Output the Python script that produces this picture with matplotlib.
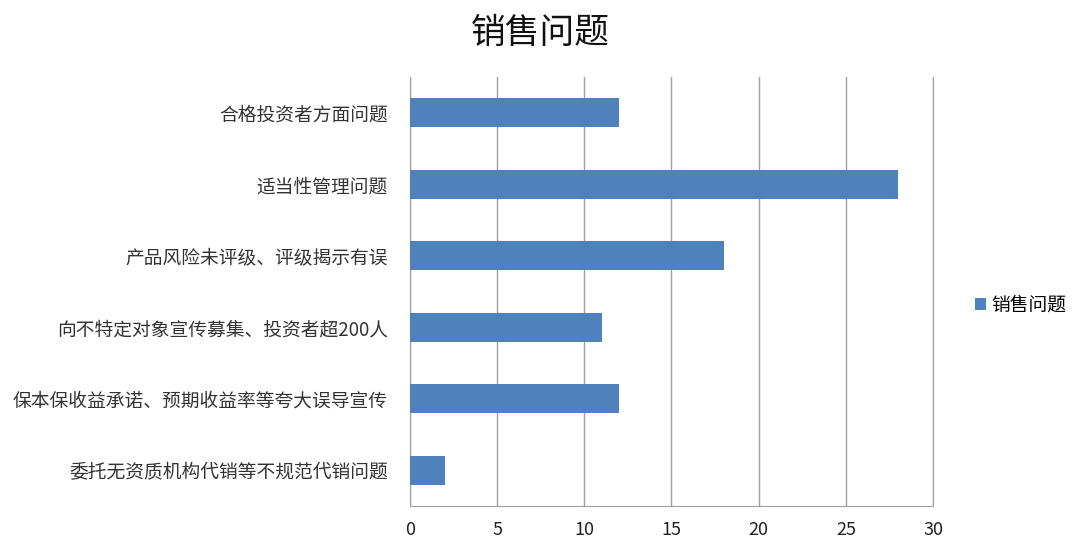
import matplotlib
matplotlib.use("Agg")
import matplotlib.pyplot as plt

plt.rcParams['font.family'] = ['Noto Sans CJK SC', 'DejaVu Sans']

categories = ['合格投资者方面问题', '适当性管理问题', '产品风险未评级、评级揭示有误',
              '向不特定对象宣传募集、投资者超200人', '保本保收益承诺、预期收益率等夸大误导宣传',
              '委托无资质机构代销等不规范代销问题']
values = [12, 28, 18, 11, 12, 2]
series_name = '销售问题'
xticks = [0, 5, 10, 15, 20, 25, 30]

fig = plt.figure(figsize=(10.8, 5.51), dpi=100)
ax = fig.add_axes([0.3796, 0.0817, 0.4843, 0.7786])

y = list(range(len(categories)))
ax.barh(y, values, height=0.4, color='#4F81BD', label=series_name, zorder=3)
ax.set_yticks(y)
ax.set_yticklabels(categories, fontsize=13.5, color='#333333')
ax.set_ylim(len(categories) - 0.5, -0.5)
ax.set_xlim(0, 30)
ax.set_xticks(xticks)
ax.set_xticklabels([str(t) for t in xticks], fontsize=13, color='#222222')
ax.tick_params(axis='both', length=0)
ax.tick_params(axis='y', pad=16)
ax.tick_params(axis='x', pad=11)
ax.grid(axis='x', color='#A0A0A0', linewidth=1, zorder=0)
ax.spines['top'].set_visible(False)
for s in ['left', 'bottom', 'right']:
    ax.spines[s].set_color('#A0A0A0')

fig.text(0.5, 0.94, '销售问题', ha='center', va='center', fontsize=25, color='#111111')

leg = fig.legend(loc='center left', bbox_to_anchor=(0.887, 0.447), frameon=False,
                 fontsize=13.5, handlelength=0.6, handleheight=0.6, handletextpad=0.3)

fig.savefig('out.png', dpi=100)
